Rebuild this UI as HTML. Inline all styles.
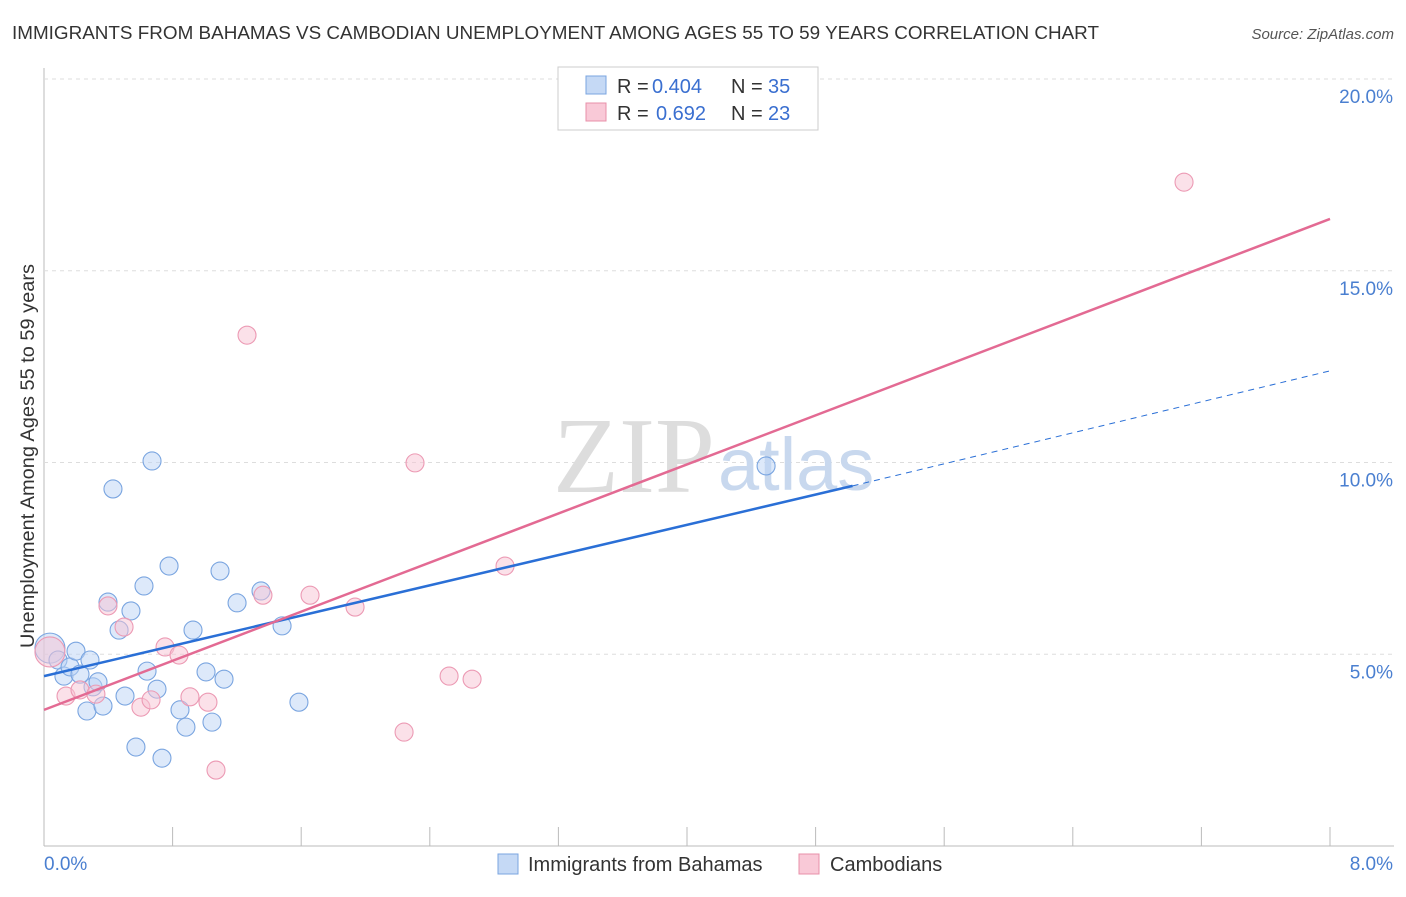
<!DOCTYPE html>
<html><head><meta charset="utf-8"><style>
body{margin:0;background:#fff;font-family:"Liberation Sans",sans-serif}
</style></head><body>
<svg width="1406" height="892" viewBox="0 0 1406 892" xmlns="http://www.w3.org/2000/svg">
<text x="12" y="39" font-size="18" fill="#333" textLength="1087" lengthAdjust="spacingAndGlyphs">IMMIGRANTS FROM BAHAMAS VS CAMBODIAN UNEMPLOYMENT AMONG AGES 55 TO 59 YEARS CORRELATION CHART</text>
<text x="1394" y="39" font-size="15" fill="#555" font-style="italic" text-anchor="end">Source: ZipAtlas.com</text>
<g id="grid"></g>
<text x="553" y="492" font-size="108" fill="#ddd" font-family="Liberation Serif">ZIP</text>
<text x="718" y="490" font-size="74" fill="#c8d8ee">atlas</text>
<g id="pts"></g>
<g id="lines"></g>
<text transform="translate(34,456) rotate(-90)" font-size="19" fill="#333" text-anchor="middle" textLength="384" lengthAdjust="spacingAndGlyphs">Unemployment Among Ages 55 to 59 years</text>
<text x="44" y="870" font-size="19" fill="#4a7fd0">0.0%</text>
<text x="1393" y="870" font-size="19" fill="#4a7fd0" text-anchor="end">8.0%</text>
<g>
<rect x="558" y="67" width="260" height="63" fill="#fff" stroke="#ccc"/>
<rect x="586" y="76" width="20" height="18" fill="#c5d9f5" stroke="#7aa5e0"/>
<rect x="586" y="103" width="20" height="18" fill="#f9c9d7" stroke="#e890aa"/>
<text x="617" y="93" font-size="20" fill="#333">R =</text>
<text x="652" y="93" font-size="20" fill="#3a6fd0">0.404</text>
<text x="731" y="93" font-size="20" fill="#333">N =</text>
<text x="768" y="93" font-size="20" fill="#3a6fd0">35</text>
<text x="617" y="120" font-size="20" fill="#333">R =</text>
<text x="656" y="120" font-size="20" fill="#3a6fd0">0.692</text>
<text x="731" y="120" font-size="20" fill="#333">N =</text>
<text x="768" y="120" font-size="20" fill="#3a6fd0">23</text>
</g>
<g>
<rect x="498" y="854" width="20" height="20" fill="#c5d9f5" stroke="#7aa5e0"/>
<text x="528" y="871" font-size="20" fill="#333">Immigrants from Bahamas</text>
<rect x="799" y="854" width="20" height="20" fill="#f9c9d7" stroke="#e890aa"/>
<text x="830" y="871" font-size="20" fill="#333">Cambodians</text>
</g>
</svg>
<script>
const yTicks=[5,10,15,20];
const yTickLabels=["5.0%","10.0%","15.0%","20.0%"];
const blueX=[0.037,0.087,0.124,0.162,0.199,0.224,0.267,0.305,0.336,0.367,0.429,0.398,0.467,0.504,0.541,0.572,0.622,0.641,0.672,0.703,0.734,0.778,0.846,0.883,0.927,1.008,1.045,1.095,1.120,1.201,1.350,1.481,1.586,4.492,0.286];
const blueY=[5.16,4.85,4.43,4.67,5.08,4.48,3.52,4.15,4.28,3.65,9.31,6.36,5.63,3.91,6.13,2.58,6.78,4.56,10.04,4.09,2.29,7.30,3.55,3.10,5.63,4.54,3.23,7.17,4.35,6.34,6.65,5.74,3.75,9.91,4.85];
const pinkX=[0.037,0.137,0.224,0.323,0.398,0.498,0.603,0.666,0.753,0.840,0.908,1.020,1.070,1.263,1.362,1.655,1.935,2.240,2.308,2.520,2.663,2.868,7.092];
const pinkY=[5.06,3.91,4.07,3.96,6.26,5.71,3.62,3.81,5.19,4.98,3.89,3.75,1.98,13.32,6.54,6.54,6.23,2.97,9.99,4.43,4.35,7.30,17.31];
const blueLine=[4.43,9.39,12.39];
const blueLineX=[0,5.03,8];
const pinkLine=[3.55,16.35];
const pinkLineX=[0,8];
const X=v=>44+v/8*1286, Y=v=>846-v*38.35;
const NS="http://www.w3.org/2000/svg";
function mk(t,a,p){const e=document.createElementNS(NS,t);for(const k in a)e.setAttribute(k,a[k]);p.appendChild(e);return e;}
const g=document.getElementById('grid');
let ax=mk('line',{x1:44,y1:68,x2:44,y2:846,stroke:'#bbb'},g);


let bx=mk('line',{x1:44,y1:846,x2:1394,y2:846,stroke:'#bbb'},g);


for(let i=0;i<=10;i++){const t=mk('line',{x1:X(i*0.8),y1:827,x2:X(i*0.8),y2:846,stroke:'#bbb'},g);

}
yTicks.forEach((v,i)=>{const l=mk('line',{x1:44,y1:Y(v),x2:1394,y2:Y(v),stroke:'#ddd','stroke-dasharray':'4,4'},g);


const t=mk('text',{x:1393,y:Y(v)+24,'font-size':19,fill:'#4a7fd0','text-anchor':'end'},g);t.textContent=yTickLabels[i];

});
const p=document.getElementById('pts');
function dots(xs,ys,f,s,n){xs.forEach((x,i)=>{const r=i==0?15:9;const c=mk('circle',{cx:X(x),cy:Y(ys[i]),r:r,fill:f,'fill-opacity':0.5,stroke:s,'stroke-width':1.1},p);

});}
dots(blueX,blueY,'#bcd4f5','#7aa5e0','bahamas-point');
dots(pinkX,pinkY,'#f8c3d3','#ec9ab4','cambodian-point');
const L=document.getElementById('lines');
let b1=mk('line',{x1:X(blueLineX[0]),y1:Y(blueLine[0]),x2:X(blueLineX[1]),y2:Y(blueLine[1]),stroke:'#2a6fd6','stroke-width':2.5},L);


let b2=mk('line',{x1:X(blueLineX[1]),y1:Y(blueLine[1]),x2:X(blueLineX[2]),y2:Y(blueLine[2]),stroke:'#2a6fd6','stroke-width':1,'stroke-dasharray':'6,5'},L);


let p1=mk('line',{x1:X(pinkLineX[0]),y1:Y(pinkLine[0]),x2:X(pinkLineX[1]),y2:Y(pinkLine[1]),stroke:'#e36a93','stroke-width':2.5},L);


</script>
</body></html>
